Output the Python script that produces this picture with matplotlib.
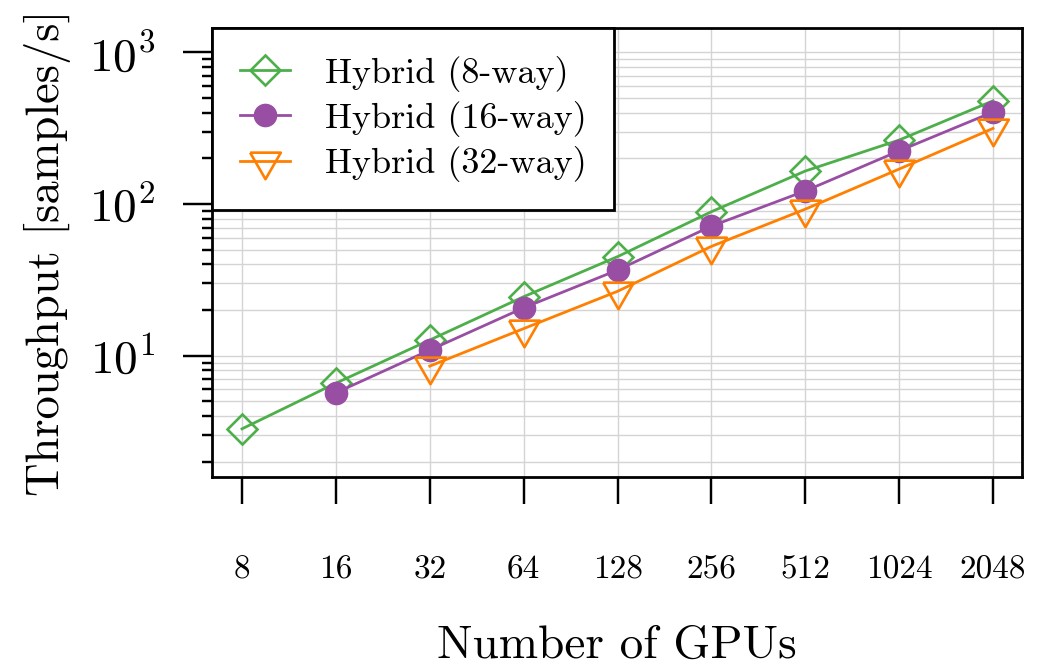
import matplotlib
matplotlib.use("Agg")
import matplotlib.pyplot as plt
from matplotlib.ticker import FixedLocator, FixedFormatter, LogLocator, NullFormatter

plt.rcParams['font.family'] = ['cmr10', 'DejaVu Serif']
plt.rcParams['mathtext.fontset'] = 'cm'
plt.rcParams['axes.unicode_minus'] = False
plt.rcParams['axes.formatter.use_mathtext'] = True

gpus = [8, 16, 32, 64, 128, 256, 512, 1024, 2048]
gpu_labels = ["8", "16", "32", "64", "128", "256", "512", "1024", "2048"]

gpus_8way = [8, 16, 32, 64, 128, 256, 512, 1024, 2048]
thr_8way = [3.3, 6.6, 12.7, 24.5, 45, 89, 165, 264, 479]

gpus_16way = [16, 32, 64, 128, 256, 512, 1024, 2048]
thr_16way = [5.7, 10.9, 20.7, 36.7, 71.5, 122, 224, 404]

gpus_32way = [32, 64, 128, 256, 512, 1024, 2048]
thr_32way = [8.55, 15.1, 26.6, 52.6, 92.5, 170, 315]

labels = ["Hybrid (8-way)", "Hybrid (16-way)", "Hybrid (32-way)"]
colors = ["#4daf4a", "#984ea3", "#ff7f00"]

# downward triangle centred on its centroid
tri_down = [(-1.0, 0.577), (1.0, 0.577), (0.0, -1.155), (-1.0, 0.577)]

fig = plt.figure(figsize=(10.51, 6.67), dpi=100)
ax = fig.add_axes([0.2017, 0.2849, 0.9724 - 0.2017, 0.958 - 0.2849])

ax.plot(gpus_8way, thr_8way, color=colors[0], lw=2.0, marker='D', ms=15.5,
        mfc='none', mec=colors[0], mew=1.9, label=labels[0], zorder=3)
ax.plot(gpus_16way, thr_16way, color=colors[1], lw=2.0, marker='o', ms=16,
        mfc=colors[1], mec=colors[1], mew=1.0, label=labels[1], zorder=4)
ax.plot(gpus_32way, thr_32way, color=colors[2], lw=2.0, marker=tri_down, ms=25.5,
        mfc='none', mec=colors[2], mew=1.9, label=labels[2], zorder=5)

ax.set_xscale('log', base=2)
ax.set_yscale('log')
ax.set_xlim(6.41, 2536)
ax.set_ylim(1.59, 1445)

ax.xaxis.set_major_locator(FixedLocator(gpus))
ax.xaxis.set_major_formatter(FixedFormatter(gpu_labels))
ax.xaxis.set_minor_locator(FixedLocator([]))

ax.yaxis.set_major_locator(LogLocator(base=10, numticks=10))
ax.yaxis.set_minor_locator(LogLocator(base=10, subs=range(2, 10), numticks=50))
ax.yaxis.set_minor_formatter(NullFormatter())

ax.grid(True, which='major', axis='x', color='#d4d4d4', lw=1.0)
ax.grid(True, which='both', axis='y', color='#d4d4d4', lw=1.0)
ax.set_axisbelow(True)

for s in ax.spines.values():
    s.set_linewidth(2.0)
    s.set_color('black')

ax.tick_params(axis='x', which='major', direction='out', length=19.5, width=1.75,
               pad=37, labelsize=24)
ax.tick_params(axis='y', which='major', direction='out', length=21, width=1.75,
               pad=20, labelsize=34)
ax.tick_params(axis='y', which='minor', direction='out', length=7, width=1.75)

ax.set_xlabel("Number of GPUs", fontsize=34)
ax.xaxis.set_label_coords(0.5, -0.33)
ax.set_ylabel("Throughput [samples/s]", fontsize=33.5, va='center')
ax.yaxis.set_label_coords(-0.2025, 0.5)

leg = ax.legend(loc='upper left', fontsize=26, frameon=True, fancybox=False,
                framealpha=1.0, edgecolor='black', borderaxespad=0.0,
                borderpad=0.77, handlelength=1.4, handleheight=0.7,
                handletextpad=0.955, labelspacing=0.258)
leg.get_frame().set_linewidth(2.0)

fig.savefig("out.png", dpi=100)
